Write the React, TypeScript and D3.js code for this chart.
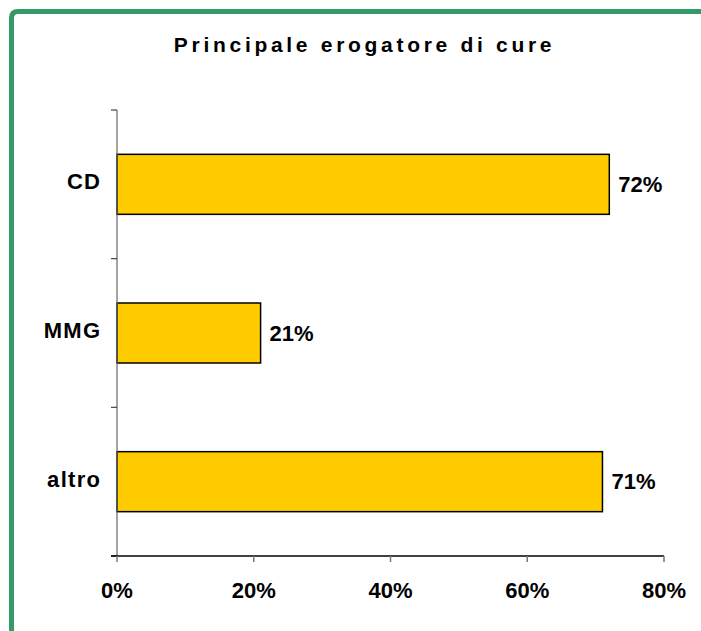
import React from "react";
import * as d3 from "d3";

const categories = ["CD", "MMG", "altro"];
const values = [72, 21, 71];
const xTicks = [0, 20, 40, 60, 80];
const title = "Principale erogatore di cure";

export default function App() {
  const W = 701, H = 631;
  const left = 117, right = 664, top = 110, bottom = 556;
  const x = d3.scaleLinear().domain([0, 80]).range([left, right]);
  const y = d3.scaleBand().domain(categories).range([top, bottom]).paddingInner(0).paddingOuter(0);
  const barH = 60;
  const font = "Liberation Sans, Arial, sans-serif";
  const bandTicks = [top, ...categories.map((c) => (y(c) as number) + y.bandwidth())];
  const titleLs = 3.7;
  const catLs = 1.3;
  return (
    <svg width={W} height={H} style={{ position: "absolute", left: 0, top: 0 }}>
      <rect x={0} y={0} width={W} height={H} fill="#fff" />
      <path d={`M11.5,${H + 10} L11.5,18 Q11.5,11.5 18,11.5 L${W + 10},11.5`} fill="none" stroke="#339966" strokeWidth={5} />
      <text x={362.7 + titleLs / 2} y={52} textAnchor="middle" fontFamily={font} fontWeight="bold" fontSize={21} letterSpacing={titleLs}>{title}</text>
      {categories.map((c, i) => {
        const cy = (y(c) as number) + y.bandwidth() / 2;
        return (
          <g key={c}>
            <rect x={x(0)} y={cy - barH / 2} width={x(values[i]) - x(0)} height={barH} fill="#FFCC00" stroke="#000" strokeWidth={1.5} />
            <text x={x(values[i]) + 9} y={cy + 7.5} fontFamily={font} fontWeight="bold" fontSize={22}>{values[i]}%</text>
            <text x={100 + catLs} y={cy + 5} textAnchor="end" fontFamily={font} fontWeight="bold" fontSize={22} letterSpacing={catLs}>{c}</text>
          </g>
        );
      })}
      <line x1={left} x2={left} y1={top} y2={bottom} stroke="#666" strokeWidth={1.2} />
      {bandTicks.map((t, i) => (
        <line key={i} x1={left - 6} x2={left} y1={t} y2={t} stroke="#444" strokeWidth={1.2} />
      ))}
      <line x1={left - 6} x2={right} y1={bottom} y2={bottom} stroke="#000" strokeWidth={1.5} />
      {xTicks.map((t) => (
        <g key={t}>
          <line x1={x(t)} x2={x(t)} y1={bottom} y2={bottom + 6} stroke="#777" strokeWidth={1.5} />
          <text x={x(t)} y={598} textAnchor="middle" fontFamily={font} fontWeight="bold" fontSize={22}>{t}%</text>
        </g>
      ))}
    </svg>
  );
}
